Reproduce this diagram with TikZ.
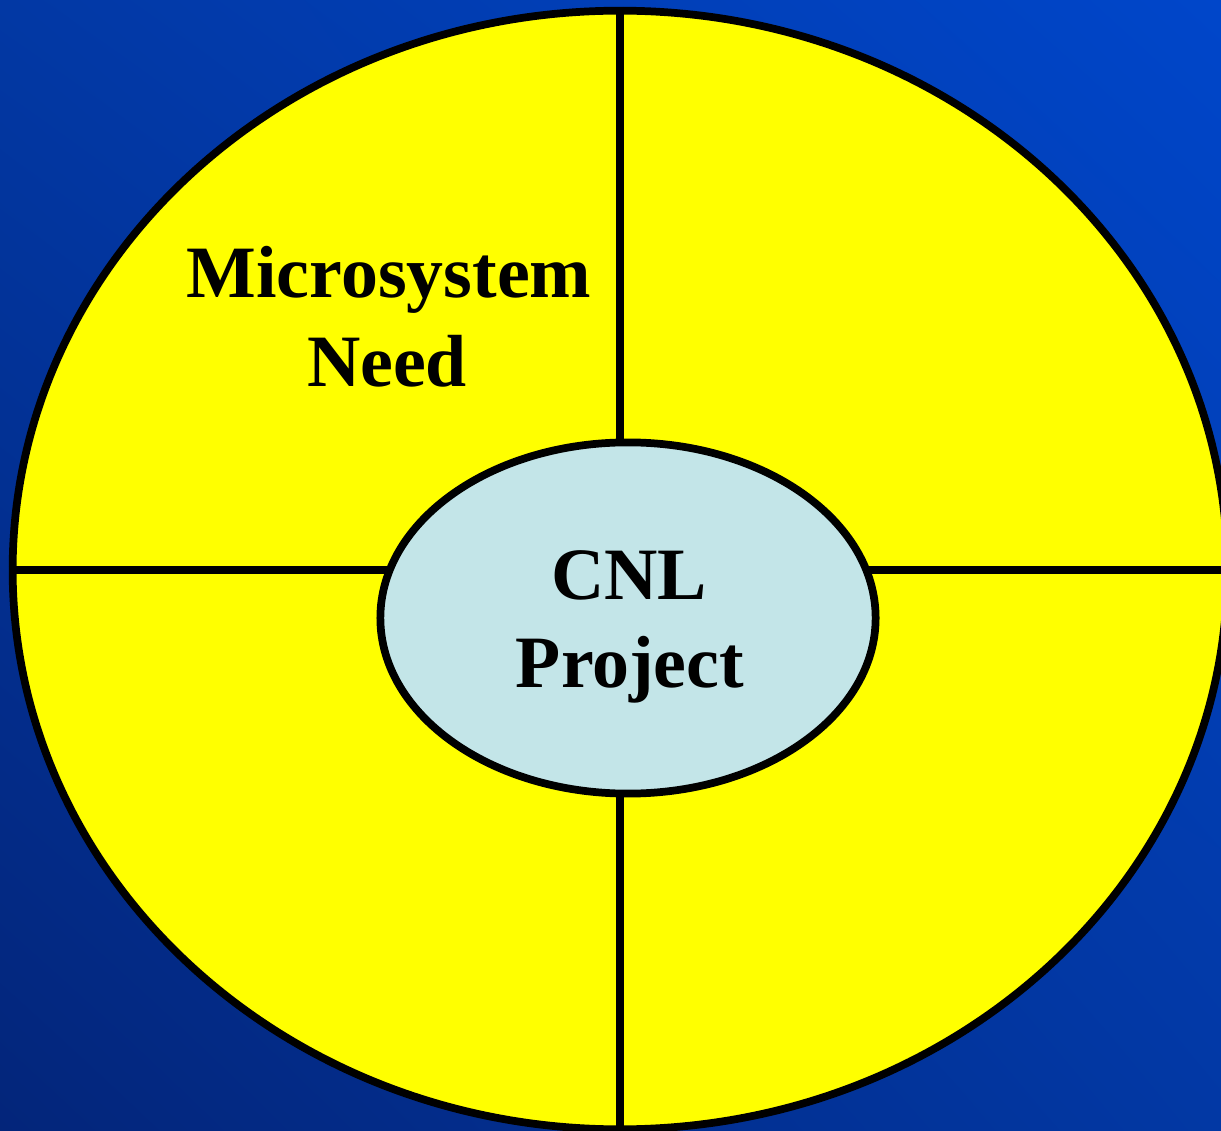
\documentclass[tikz,border=0pt]{standalone}
\usepackage{fontspec}
\setmainfont{Liberation Serif}
\usetikzlibrary{shapes.geometric,shadings}
\definecolor{bgdark}{RGB}{3,37,122}
\definecolor{bgmid}{RGB}{2,56,164}
\definecolor{bglight}{RGB}{0,70,202}
\definecolor{wheelyellow}{RGB}{255,255,0}
\definecolor{cnlblue}{RGB}{195,229,232}

\begin{document}
\begin{tikzpicture}[x=0.01cm,y=-0.01cm,
        rim/.style={draw=black,line width=2.2pt,inner sep=0pt},
        word/.style={font=\fontsize{21}{25}\selectfont\bfseries,anchor=base,inner sep=0pt}]
            \useasboundingbox (0,0) rectangle (1221,1131);
            \shade[lower left=bgdark,upper right=bglight,upper left=bgmid,lower right=bgmid] (0,0) rectangle (1221,1131);
            \clip (0,0) rectangle (1221,1131);
            \coordinate (O) at (620,570);
            \coordinate (C) at (628,618);
            \node[ellipse,rim,fill=wheelyellow,minimum width=12.14cm,minimum height=11.18cm] (wheel) at (O) {};
            \draw[rim] (wheel.north) -- (wheel.south);
            \draw[rim] (wheel.west) -- (wheel.east);
            \node[ellipse,rim,fill=cnlblue,minimum width=4.95cm,minimum height=3.51cm] (cnl) at (C) {};
            \foreach \n/\x/\y/\t in {micro/389/298/Microsystem,need/387/387/Need,cnltop/629/600/CNL,project/630/688/Project} {
                \node[word] (\n) at (\x,\y) {\t};
            }
        \end{tikzpicture}
\end{document}
